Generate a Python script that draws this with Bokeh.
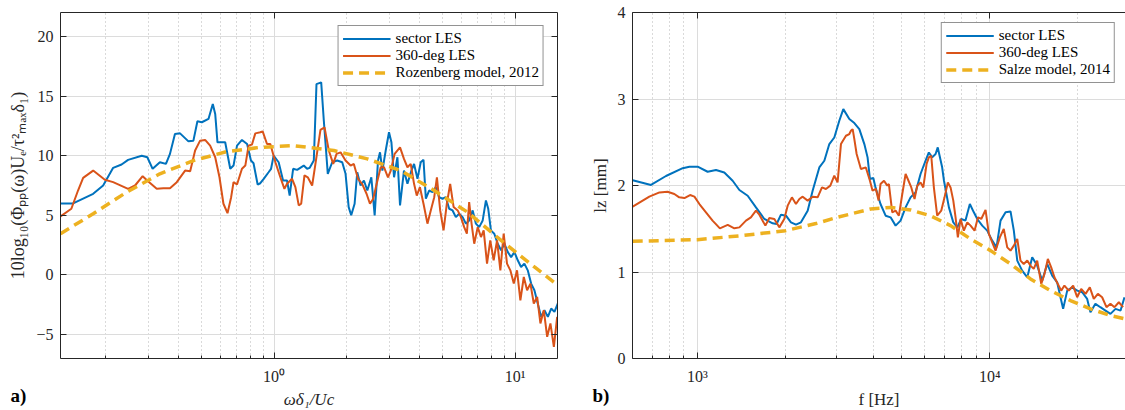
from bokeh.plotting import figure
from bokeh.models import Range1d, LogAxis, LinearAxis, FixedTicker, Legend, LegendItem, Title
from bokeh.layouts import row
from bokeh.embed import file_html
from bokeh.resources import INLINE

# ---------------- panel a) data ----------------
a_sector_x = [0.13, 0.1466, 0.1776, 0.1954, 0.215, 0.233, 0.248, 0.2825, 0.298, 0.3135,
              0.336, 0.356, 0.370, 0.388, 0.4074, 0.4414, 0.4628, 0.4809, 0.5016, 0.5345,
              0.557, 0.570, 0.5824, 0.627, 0.658, 0.679, 0.702, 0.736, 0.773, 0.802,
              0.822, 0.855, 0.877, 0.906, 0.949, 0.972, 0.996, 1.045, 1.09, 1.132,
              1.161, 1.2, 1.247, 1.328, 1.371, 1.406, 1.462, 1.5, 1.569, 1.609,
              1.671, 1.743, 1.828, 1.918, 1.98, 2.04, 2.09, 2.159, 2.214, 2.286,
              2.36, 2.438, 2.533, 2.615, 2.70, 2.752, 2.815, 2.906, 2.999, 3.069,
              3.147, 3.25, 3.332, 3.46, 3.577, 3.716, 3.81, 3.936, 4.06, 4.17,
              4.264, 4.40, 4.546, 4.69, 4.84, 5.0, 5.16, 5.33, 5.505, 5.68,
              5.86, 6.06, 6.25, 6.45, 6.67, 6.88, 7.1, 7.34, 7.57, 7.74,
              7.94, 8.2, 8.47, 8.75, 9.03, 9.33, 9.63, 9.94, 10.26, 10.59,
              10.93, 11.29, 11.66, 12.03, 12.42, 12.82, 13.24, 13.68, 14.12, 14.57,
              15.05]
a_sector_y = [6.0, 6.0, 6.8, 7.5, 8.98, 9.26, 9.65, 10.0, 9.87, 8.9,
              9.45, 9.31, 10.15, 11.82, 11.87, 11.2, 11.26, 12.88, 12.8, 13.08,
              14.33, 13.5, 11.12, 11.12, 8.9, 9.17, 10.84, 11.32, 10.98, 9.59,
              9.37, 7.58, 7.69, 8.06, 8.61, 8.9, 10.0, 9.45, 7.92, 7.92,
              6.66, 8.9, 8.81, 9.17, 8.9, 8.98, 9.59, 16.0, 16.14, 12.93,
              8.48, 9.45, 9.59, 9.45, 8.48, 5.69, 5.0, 5.97, 8.61, 7.5,
              7.92, 7.08, 8.19, 5.0, 9.59, 10.28, 8.75, 10.43, 11.96, 11.12,
              8.19, 9.87, 5.83, 8.75, 7.64, 8.75, 9.31, 8.06, 9.45, 9.65,
              6.39, 7.08, 6.94, 7.36, 6.52, 6.39, 6.52, 5.55, 5.41, 4.85,
              5.13, 4.85, 4.30, 4.57, 5.41, 4.30, 4.01, 4.57, 6.25, 5.55,
              3.74, 3.46, 2.62, 2.07, 2.62, 1.92, 1.5, 1.92, 1.23, 0.67,
              0.95, 0.39, -0.72, -1.28, -2.39, -3.51, -2.95, -3.51, -2.81, -3.09,
              -2.39]

a_full_x = [0.13, 0.1442, 0.1537, 0.1614, 0.1776, 0.1986, 0.215, 0.248, 0.265, 0.285,
            0.30, 0.326, 0.3474, 0.37, 0.3948, 0.4275, 0.4487, 0.4704, 0.4934, 0.5176,
            0.543, 0.570, 0.5937, 0.6166, 0.641, 0.6637, 0.679, 0.702, 0.736, 0.76,
            0.784, 0.81, 0.836, 0.877, 0.897, 0.935, 0.965, 1.013, 1.062, 1.104,
            1.132, 1.188, 1.226, 1.266, 1.296, 1.337, 1.38, 1.439, 1.485, 1.558,
            1.62, 1.687, 1.76, 1.817, 1.888, 1.98, 2.078, 2.143, 2.23, 2.32,
            2.42, 2.50, 2.58, 2.666, 2.77, 2.858, 2.97, 3.05, 3.165, 3.332,
            3.46, 3.577, 3.69, 3.81, 3.91, 4.03, 4.17, 4.33, 4.47, 4.62,
            4.74, 4.89, 5.05, 5.21, 5.38, 5.56, 5.78, 5.96, 6.15, 6.31,
            6.45, 6.6, 6.77, 7.0, 7.22, 7.41, 7.65, 7.89, 8.15, 8.42,
            8.69, 8.97, 9.26, 9.56, 9.88, 10.19, 10.52, 10.87, 11.22, 11.58,
            11.96, 12.35, 12.74, 13.16, 13.59, 14.02, 14.49, 14.95]
a_full_y = [4.91, 5.55, 7.08, 8.14, 8.75, 7.98, 7.78, 7.22, 7.5, 8.28,
            7.86, 7.22, 7.27, 7.27, 7.78, 8.75, 8.7, 10.43, 11.26, 11.32,
            10.84, 9.87, 8.19, 5.97, 5.18, 6.52, 7.78, 7.58, 8.9, 9.17,
            10.84, 10.93, 11.87, 11.96, 12.04, 10.98, 10.98, 9.45, 8.19, 7.22,
            7.64, 8.06, 7.36, 5.83, 5.97, 8.34, 8.19, 7.5, 9.31, 12.16,
            12.37, 10.43, 9.31, 10.15, 10.28, 9.59, 9.17, 9.31, 8.06, 7.64,
            6.81, 5.97, 6.39, 7.64, 9.03, 9.03, 8.19, 8.75, 10.15, 10.70,
            9.73, 9.03, 9.31, 7.64, 6.66, 7.36, 5.97, 4.30, 5.41, 6.52,
            8.19, 5.41, 3.74, 5.97, 7.64, 5.69, 5.41, 4.85, 4.01, 3.46,
            6.11, 4.30, 2.62, 4.01, 3.18, 3.74, 0.95, 2.90, 1.23, 2.90,
            0.39, 3.46, 0.95, 0.39, -0.72, 0.39, -2.12, -0.17, -1.28, -0.72,
            -2.39, -1.84, -4.06, -2.95, -5.18, -4.06, -6.02, -3.51]

a_model_x = [0.13, 0.1776, 0.2445, 0.336, 0.4628, 0.637, 0.877, 1.207, 1.77, 2.438,
             3.36, 4.62, 6.35, 8.75, 12.03, 15.05]
a_model_y = [3.46, 5.13, 6.94, 8.48, 9.59, 10.34, 10.7, 10.84, 10.43, 9.73,
             8.75, 7.08, 5.27, 2.90, 0.67, -0.86]

a_xticks = [1, 10]
a_xtick_labels = ["10\u2070", "10\u00b9"]
a_xminor = [0.2, 0.3, 0.4, 0.5, 0.6, 0.7, 0.8, 0.9, 2, 3, 4, 5, 6, 7, 8, 9]
a_yticks = [-5, 0, 5, 10, 15, 20]

# ---------------- panel b) data ----------------
b_sector_x = [601, 694, 781, 891, 939, 1002, 1084, 1158, 1236, 1320,
              1392, 1486, 1586, 1694, 1808, 1866, 1931, 2009, 2089, 2173,
              2260, 2383, 2478, 2612, 2717, 2826, 2939, 3057, 3155, 3308,
              3441, 3579, 3723, 3819, 3891, 3996, 4064, 4228, 4402, 4577,
              4762, 4952, 5152, 5357, 5571, 5796, 6026, 6187, 6353, 6523,
              6637, 6870, 6970, 7246, 7500, 7740, 7985, 8255, 8544, 8817,
              9058, 9420, 9796, 10190, 10540, 10880, 11320, 11770, 12080, 12410,
              12900, 13430, 13960, 14520, 15100, 15710, 16340, 16990, 17440, 17810,
              18390, 19120, 19890, 20690, 21520, 22080, 22960, 23880, 24860, 25850,
              26900, 27990, 28870]
b_sector_y = [2.06, 2.006, 2.11, 2.20, 2.217, 2.217, 2.159, 2.18, 2.15, 2.055,
              1.948, 1.882, 1.747, 1.613, 1.563, 1.555, 1.663, 1.651, 1.574, 1.547,
              1.574, 1.709, 1.94, 2.209, 2.286, 2.479, 2.555, 2.748, 2.883, 2.768,
              2.722, 2.652, 2.479, 2.325, 2.075, 2.087, 1.978, 1.786, 1.651, 1.632,
              1.536, 1.594, 1.747, 1.863, 1.92, 2.133, 2.286, 2.382, 2.325, 2.364,
              2.44, 2.21, 2.055, 1.747, 1.574, 1.516, 1.613, 1.594, 1.786, 1.69,
              1.613, 1.536, 1.478, 1.363, 1.285, 1.594, 1.69, 1.70, 1.478, 1.132,
              1.016, 0.939, 1.17, 1.074, 0.90, 1.093, 0.958, 0.881, 0.708, 0.574,
              0.785, 0.823, 0.785, 0.766, 0.689, 0.535, 0.632, 0.593, 0.554, 0.516,
              0.574, 0.554, 0.708]

b_full_x = [601, 685, 742, 791, 834, 867, 903, 944, 977, 1016,
            1070, 1127, 1194, 1270, 1338, 1392, 1466, 1524, 1586, 1629,
            1708, 1762, 1833, 1906, 1982, 2036, 2105, 2173, 2232, 2291,
            2383, 2478, 2577, 2667, 2751, 2848, 2939, 3016, 3097, 3221,
            3308, 3350, 3396, 3441, 3504, 3624, 3767, 3891, 3972, 4078,
            4165, 4228, 4346, 4460, 4517, 4638, 4762, 4887, 5019, 5152,
            5240, 5388, 5528, 5648, 5796, 5921, 6077, 6187, 6305, 6436,
            6607, 6821, 7000, 7185, 7340, 7500, 7635, 7775, 7943, 8150,
            8373, 8593, 8867, 9109, 9346, 9668, 9922, 10190, 10460, 10820,
            11160, 11470, 11770, 12080, 12410, 12730, 13060, 13430, 13770, 14130,
            14520, 14990, 15380, 15790, 16210, 16630, 17080, 17540, 17990, 18620,
            19270, 19890, 20530, 21250, 21970, 22670, 23410, 24210, 25050, 25850,
            26690, 27610, 28560]
b_full_y = [1.755, 1.871, 1.92, 1.928, 1.902, 1.863, 1.855, 1.89, 1.871, 1.786,
            1.69, 1.594, 1.505, 1.544, 1.505, 1.516, 1.594, 1.632, 1.709, 1.663,
            1.536, 1.624, 1.613, 1.516, 1.613, 1.767, 1.863, 1.786, 1.844, 1.871,
            1.825, 1.871, 1.863, 1.978, 1.96, 1.998, 2.113, 2.036, 2.479, 2.575,
            2.595, 2.633, 2.652, 2.537, 2.364, 2.19, 2.209, 2.055, 1.94, 1.96,
            1.825, 2.017, 2.055, 1.998, 2.017, 1.69, 1.709, 1.651, 1.902, 2.133,
            2.075, 1.978, 1.844, 1.998, 2.036, 1.978, 2.248, 2.325, 2.344, 1.978,
            1.651, 1.709, 1.863, 2.036, 1.978, 1.825, 1.632, 1.40, 1.613, 1.478,
            1.574, 1.536, 1.478, 1.632, 1.613, 1.717, 1.44, 1.343, 1.247, 1.40,
            1.498, 1.285, 1.247, 1.305, 1.382, 1.132, 1.093, 1.132, 1.074, 1.036,
            1.132, 0.862, 0.978, 1.151, 1.054, 0.939, 0.862, 0.785, 0.843, 0.785,
            0.843, 0.708, 0.805, 0.747, 0.823, 0.689, 0.747, 0.708, 0.593, 0.632,
            0.593, 0.65, 0.593]

b_model_x = [601, 1000, 1416, 2003, 2543, 3010, 3912, 4296, 4577, 5357,
             6260, 7340, 8593, 10060, 11770, 13770, 16120, 18870, 22080, 25850,
             29040]
b_model_y = [1.355, 1.374, 1.42, 1.478, 1.56, 1.632, 1.729, 1.74, 1.747, 1.717,
             1.651, 1.536, 1.382, 1.247, 1.093, 0.92, 0.785, 0.67, 0.574, 0.497,
             0.458]

b_xticks = [1000, 10000]
b_xtick_labels = ["10\u00b3", "10\u2074"]
b_xminor = [700, 800, 900, 2000, 3000, 4000, 5000, 6000, 7000, 8000, 9000, 20000]
b_yticks = [0, 1, 2, 3, 4]

series_labels = ["sector LES", "360-deg LES"]
a_model_label = "Rozenberg model, 2012"
b_model_label = "Salze model, 2014"

# ---------------- styling ----------------
FONT = "Liberation Serif"
BLUE = "#0072BD"
ORANGE = "#D95319"
YELLOW = "#EDB120"
AXC = "#262626"


def make_panel(xr, yr, fw, left, right, xt, xtl, xminor, yt, xlabel, ylabel,
               xs, ys, xf, yf, xm, ym, model_label, panel_tag, tag_offset, leg_margin,
               right_axis=True):
    p = figure(x_axis_type="log", x_range=Range1d(*xr), y_range=Range1d(*yr),
               frame_width=fw, frame_height=346, min_border_left=left,
               min_border_right=right, min_border_top=12, min_border_bottom=52,
               output_backend="svg", toolbar_location=None,
               background_fill_color="white", border_fill_color="white",
               outline_line_color=None)
    xtick = FixedTicker(ticks=xt, minor_ticks=xminor)
    ytick = FixedTicker(ticks=yt, minor_ticks=[])
    p.xaxis.ticker = xtick
    p.yaxis.ticker = ytick
    p.xgrid.ticker = xtick
    p.ygrid.ticker = ytick
    p.xaxis.major_label_overrides = dict(zip(xt, xtl))

    top = LogAxis(ticker=FixedTicker(ticks=xt, minor_ticks=[]))
    p.add_layout(top, "above")
    extra = [top]
    if right_axis:
        rax = LinearAxis(ticker=ytick)
        p.add_layout(rax, "right")
        extra.append(rax)

    for ax in p.xaxis + p.yaxis:
        ax.axis_line_color = AXC
        ax.axis_line_width = 1
        ax.major_tick_in = 6
        ax.major_tick_out = 0
        ax.minor_tick_in = 3
        ax.minor_tick_out = 0
        ax.major_tick_line_color = AXC
        ax.minor_tick_line_color = AXC
        ax.major_label_text_font = FONT
        ax.major_label_text_font_size = "16px"
        ax.major_label_text_color = AXC
        ax.axis_label_text_font = FONT
        ax.axis_label_text_font_size = "17px"
        ax.axis_label_text_font_style = "normal"
        ax.axis_label_text_color = AXC
    for ax in extra:
        ax.major_label_text_font_size = "1px"
        ax.major_label_text_alpha = 0
        ax.major_label_standoff = 0

    p.below[0].major_label_standoff = 9
    p.below[0].axis_label_standoff = 2
    p.left[0].major_label_standoff = 7
    p.left[0].axis_label_standoff = 5

    p.below[0].axis_label = xlabel
    p.left[0].axis_label = ylabel

    p.xgrid.grid_line_color = "#dcdcdc"
    p.xgrid.grid_line_width = 1
    p.xgrid.minor_grid_line_color = "#b4b4b4"
    p.xgrid.minor_grid_line_dash = "1 3"
    p.ygrid.grid_line_color = "#dcdcdc"

    r1 = p.line(xs, ys, line_color=BLUE, line_width=2)
    r2 = p.line(xf, yf, line_color=ORANGE, line_width=2)
    r3 = p.line(xm, ym, line_color=YELLOW, line_width=3.5, line_dash="10 6")

    leg = Legend(items=[LegendItem(label=series_labels[0], renderers=[r1]),
                        LegendItem(label=series_labels[1], renderers=[r2]),
                        LegendItem(label=model_label, renderers=[r3])],
                 location="top_right", margin=leg_margin, padding=4, spacing=0,
                 glyph_width=48, glyph_height=17, label_height=17, label_standoff=5,
                 label_text_font=FONT, label_text_font_size="15px",
                 label_text_color="black", border_line_color="#262626",
                 border_line_width=1, background_fill_color="white",
                 background_fill_alpha=1)
    p.add_layout(leg)

    # panel tag "a)" / "b)" in the bottom-left corner (side panel, not clipped)
    tag = Title(text=panel_tag, align="left", vertical_align="top", offset=tag_offset,
                standoff=-54, text_font=FONT, text_font_style="bold",
                text_font_size="19px", text_color="black")
    p.add_layout(tag, "below")
    return p


p1 = make_panel((0.13, 15), (-7, 22), 497, 60, 3, a_xticks, a_xtick_labels, a_xminor,
                a_yticks, "\u03c9\u03b4\u2081/Uc",
                "10log\u2081\u2080(\u03a6\u209a\u209a(\u03c9)U\u2091/\u03c4\u00b2\u2098\u2090\u2093\u03b4\u2081)",
                a_sector_x, a_sector_y, a_full_x, a_full_y, a_model_x, a_model_y,
                a_model_label, "a)", -50, 13)
p1.below[0].axis_label_text_font_style = "italic"
p1.left[0].axis_label_text_font_size = "18px"

p2 = make_panel((600, 29100), (0, 4), 493, 72, 0, b_xticks, b_xtick_labels, b_xminor,
                b_yticks, "f [Hz]", "lz [mm]",
                b_sector_x, b_sector_y, b_full_x, b_full_y, b_model_x, b_model_y,
                b_model_label, "b)", -40, 10, right_axis=False)

layout = row(p1, p2, spacing=0)
html = file_html(layout, INLINE)
open("out.html", "w").write(html)
